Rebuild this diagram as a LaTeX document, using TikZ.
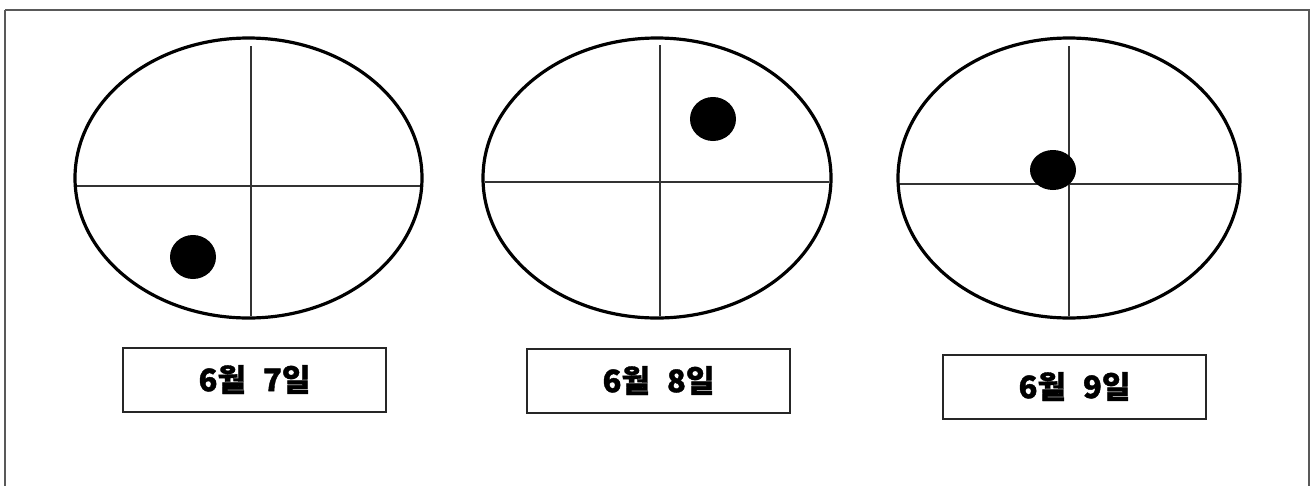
\documentclass[tikz,border=0pt]{standalone}
\usepackage{fontspec}
\newfontfamily\kr{Noto Sans CJK KR}[BoldFeatures={FakeBold=1.2}]
\usetikzlibrary{shapes.geometric}
\begin{document}
\begin{tikzpicture}[x=1pt,y=-1pt,
  oval/.style={ellipse,draw=black,line width=3.2pt,inner sep=0pt},
  crossline/.style={draw=black!80,line width=2pt},
  dot/.style={ellipse,fill=black,inner sep=0pt},
  datebox/.style={draw=black!85,line width=2pt,inner sep=0pt,minimum width=263pt,minimum height=64pt,font=\kr\bfseries\fontsize{31}{34}\selectfont},
  frame/.style={draw=black!65,line width=2.4pt}]
\useasboundingbox (0,0) rectangle (1313,485);
\fill[white] (0,0) rectangle (1313,485);
\draw[frame] (5,10) -- (1309,10) -- (1309,495) (5,495) -- (5,10);
% ovals
\node[oval,minimum width=347pt,minimum height=280pt] (o1) at (248.5,178) {};
\node[oval,minimum width=348pt,minimum height=280pt] (o2) at (657,178) {};
\node[oval,minimum width=342pt,minimum height=280pt] (o3) at (1069,178) {};
% crosses
\coordinate (v1t) at (251,46); \coordinate (v1b) at (251,316);
\coordinate (h1l) at (77,186); \coordinate (h1r) at (420,186);
\coordinate (v2t) at (660,45); \coordinate (v2b) at (660,316);
\coordinate (h2l) at (485,182); \coordinate (h2r) at (829,182);
\coordinate (v3t) at (1069,46); \coordinate (v3b) at (1069,316);
\coordinate (h3l) at (900,184); \coordinate (h3r) at (1238,184);
\draw[crossline] (v1t) -- (v1b); \draw[crossline] (h1l) -- (h1r);
\draw[crossline] (v2t) -- (v2b); \draw[crossline] (h2l) -- (h2r);
\draw[crossline] (v3t) -- (v3b); \draw[crossline] (h3l) -- (h3r);
% dots
\node[dot,minimum width=46pt,minimum height=44pt] (d1) at (193,257) {};
\node[dot,minimum width=46pt,minimum height=44pt] (d2) at (713,119) {};
\node[dot,minimum width=46pt,minimum height=40pt] (d3) at (1053,170) {};
% date boxes
\node[datebox] (b1) at (254.5,379.5) {6월\hspace{17pt}7일};
\node[datebox] (b2) at (658.5,380.5) {6월\hspace{17pt}8일};
\node[datebox] (b3) at (1074.5,386.5) {6월\hspace{17pt}9일};
\end{tikzpicture}
\end{document}
